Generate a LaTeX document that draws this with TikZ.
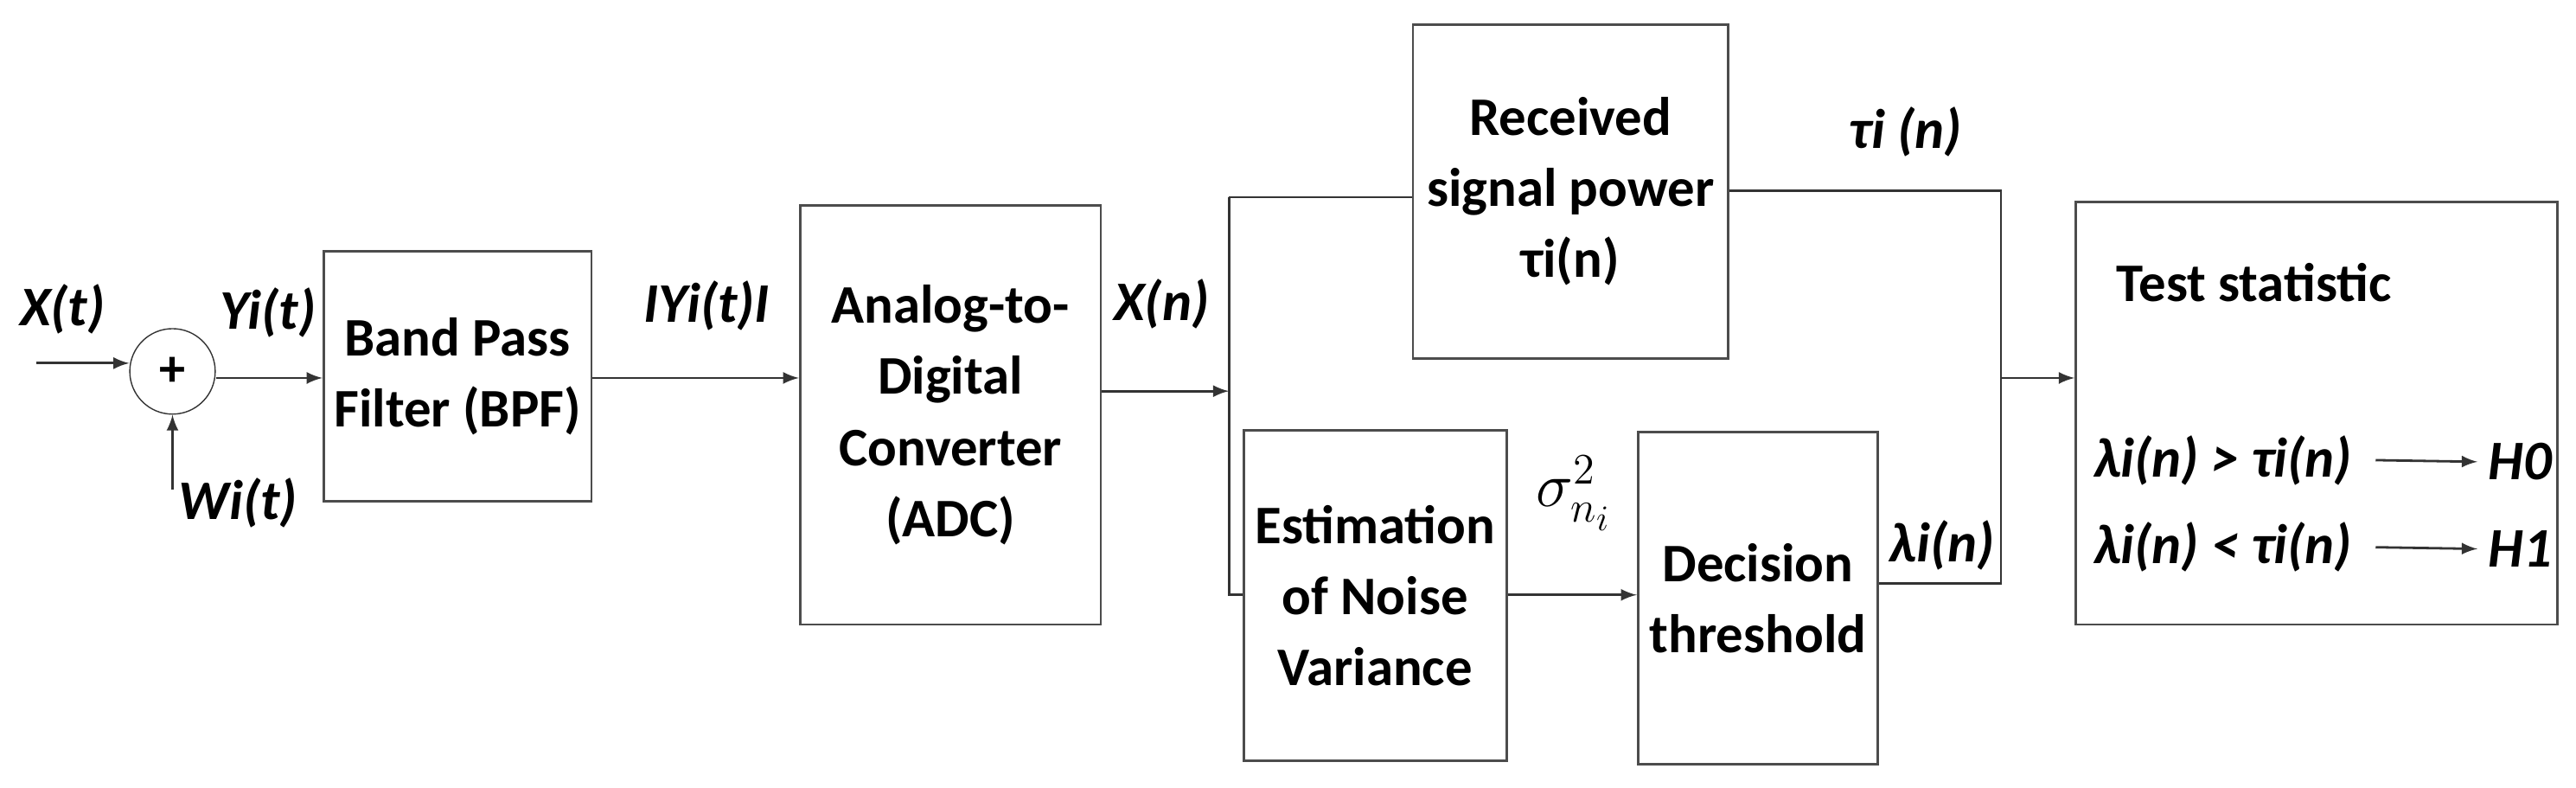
\documentclass[tikz,border=0pt]{standalone}
\usepackage{fontspec}
\setmainfont{Carlito}
\usetikzlibrary{positioning,arrows}

\tikzset{
  blk/.style={draw=black!70, thick, align=center, font=\bfseries\fontsize{18}{19.5}\selectfont},
  lbl/.style={font=\bfseries\itshape\fontsize{18.5}{20}\selectfont},
  sig/.style={->, >=latex, black!80, thick}
}

\begin{document}
\begin{tikzpicture}[x=0.01913cm, y=-0.01913cm]
\useasboundingbox (0,0) rectangle (1568,479);
% blocks
\node[draw=black!80, circle, minimum size=52*0.01913cm, inner sep=0, font=\bfseries\LARGE] (sum) at (105,226) {+};
\node[blk, minimum width=163*0.01913cm, minimum height=152*0.01913cm] (bpf) at (278.5,229) {Band Pass\\[4pt]Filter (BPF)};
\node[blk, minimum width=183*0.01913cm, minimum height=255*0.01913cm] (adc) at (578.5,252.5) {Analog-to-\\[4pt]Digital\\[4pt]Converter\\[4pt](ADC)};
\node[blk, minimum width=192*0.01913cm, minimum height=203*0.01913cm] (rsp) at (956,116.5) {Received\\[4pt]signal power\\[4pt]τi(n)};
\node[blk, minimum width=160*0.01913cm, minimum height=201*0.01913cm] (est) at (837,362.5) {Estimation\\[4pt]of Noise\\[4pt]Variance};
\node[blk, minimum width=146*0.01913cm, minimum height=202*0.01913cm] (dec) at (1070,364) {Decision\\[4pt]threshold};
\node[blk, minimum width=293*0.01913cm, minimum height=257*0.01913cm] (test) at (1410,251.5) {};
% junctions
\coordinate (in) at (22,221);
\coordinate (noise) at (105,298);
\coordinate (split) at (748,238);
\coordinate (splitT) at (748,120);
\coordinate (splitB) at (748,362);
\coordinate (join) at (1218,230);
\coordinate (joinT) at (1218,116);
\coordinate (joinB) at (1218,355);
% connectors
\draw[sig] (in) -- (sum.west |- in);
\draw[sig] (noise) -- (sum.south);
\draw[sig] (sum.east |- 0,230) -- (bpf.west |- 0,230);
\draw[sig] (bpf.east |- 0,230) -- (adc.west |- 0,230);
\draw[sig] (adc.east |- split) -- (split);
\draw[black!80, thick] (splitT) -- (rsp.west |- splitT);
\draw[black!80, thick] (splitT) -- (splitB) -- (est.west |- splitB);
\draw[sig] (est.east |- splitB) -- (dec.west |- splitB);
\draw[black!80, thick] (rsp.east |- joinT) -- (joinT) -- (joinB) -- (dec.east |- joinB);
\draw[sig] (join) -- (test.west |- join);
% labels
\node[lbl] (xt) at (38,188) {X(t)};
\node[lbl] (yt) at (163,190) {Yi(t)};
\node[lbl] (wt) at (145,306) {Wi(t)};
\node[lbl] (ya) at (430,186) {IYi(t)I};
\node[lbl] (xn) at (707,185) {X(n)};
\node[lbl] (tau) at (1160,80) {τi (n)};
\node[font=\huge, inner sep=1pt] (sg) at (958,300) {$\sigma_{n_i}^2$};
\node[lbl] (lam) at (1182,332) {λi(n)};
\node[blk, draw=none] (ts) at (1372,172) {Test statistic};
\node[lbl, anchor=west] (r1) at (1268,280) {λi(n) > τi(n)};
\node[lbl, anchor=west] (r2) at (1268,333) {λi(n) < τi(n)};
\node[lbl, anchor=west] (h0) at (1508,281) {H0};
\node[lbl, anchor=west] (h1) at (1508,334) {H1};
\draw[sig] (r1.east) ++(8,0) -- (h0.west);
\draw[sig] (r2.east) ++(8,0) -- (h1.west);
\end{tikzpicture}
\end{document}
